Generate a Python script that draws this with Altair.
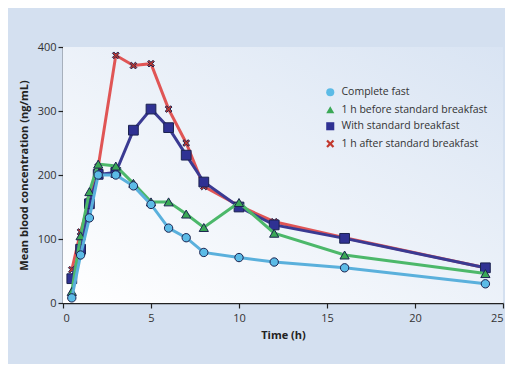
import altair as alt
import pandas as pd

times = [0.5, 1, 1.5, 2, 3, 4, 5, 6, 7, 8, 10, 12, 16, 24]
fast = [8, 75, 133, 200, 200, 183, 154, 117, 102, 79, 71, 64, 55, 30]
before = [18, 105, 174, 217, 214, 187, 158, 158, 139, 118, 157, 109, 75, 46]
with_bf = [38, 84, 155, 201, 204, 270, 303, 274, 231, 189, 150, 122, 101, 55]
after = [52, 111, 160, 213, 387, 371, 374, 303, 250, 182, 152, 127, 102, 55]

series = ["Complete fast", "1 h before standard breakfast",
          "With standard breakfast", "1 h after standard breakfast"]
values = [fast, before, with_bf, after]

line_colors = ["#5ab0dc", "#4cb86a", "#3a3a92", "#e05555"]
fill_colors = ["#5cbbe6", "#3aa856", "#2f3193", "#c2392e"]
x_path = "M-1,-0.6L-0.6,-1L0,-0.4L0.6,-1L1,-0.6L0.4,0L1,0.6L0.6,1L0,0.4L-0.6,1L-1,0.6L-0.4,0Z"
shapes = ["circle", "triangle-up", "square", x_path]

rows = []
for s, vals in zip(series, values):
    for t, v in zip(times, vals):
        rows.append({"time": t, "conc": v, "series": s})
df = pd.DataFrame(rows)

W, H = 440, 256

x_enc = alt.X("time:Q", scale=alt.Scale(domain=[0, 25], nice=False),
              axis=alt.Axis(values=[0, 5, 10, 15, 20, 25], title="Time (h)"))
y_enc = alt.Y("conc:Q", scale=alt.Scale(domain=[0, 400], nice=False),
              axis=alt.Axis(values=[0, 100, 200, 300, 400],
                            title="Mean blood concentration (ng/mL)"))

bg = alt.Chart(alt.Data(values=[{}])).mark_rect(
    color=alt.LinearGradient(
        gradient="linear",
        stops=[alt.GradientStop(color="#ffffff", offset=0),
               alt.GradientStop(color="#d9e4f3", offset=1)],
        x1=0, y1=1, x2=1, y2=0)
).encode(x=alt.value(0), x2=alt.value(W), y=alt.value(0), y2=alt.value(H))

fill_scale = alt.Scale(domain=series, range=fill_colors)
shape_scale = alt.Scale(domain=series, range=shapes)
sizes = {"Complete fast": 70, "1 h before standard breakfast": 85,
         "With standard breakfast": 95, "1 h after standard breakfast": 45}

legend = alt.Legend(title=None, orient="none", legendX=262, legendY=40,
                    symbolStrokeColor="#1c2350", symbolStrokeWidth=1,
                    symbolSize=65, rowPadding=4.5, labelOffset=6)

layers = [bg]
draw_order = [3, 2, 1, 0]
for i in draw_order:
    s = series[i]
    base = alt.Chart(df).transform_filter(alt.datum.series == s)
    line = base.mark_line(strokeWidth=3, color=line_colors[i]).encode(
        x=x_enc, y=y_enc)
    pts = base.mark_point(filled=True, opacity=1, size=sizes[s],
                          strokeWidth=1).encode(
        x=x_enc, y=y_enc,
        stroke=alt.value("#1c2350"),
        fill=alt.Fill("series:N", scale=fill_scale, legend=legend),
        shape=alt.Shape("series:N", scale=shape_scale, legend=legend))
    layers += [line, pts]

chart = alt.layer(*layers).properties(
    width=W, height=H, background="#d4e0f0",
    padding={"left": 55, "top": 39, "right": 2, "bottom": 61},
    autosize=alt.AutoSizeParams(type="none")
).configure_view(stroke=None).configure_axis(
    grid=False, domainColor="#222", domainWidth=1.5, tickColor="#222",
    tickSize=5, tickWidth=1.2, labelColor="#333", labelFontSize=11,
    labelFont="Open Sans", titleFont="Open Sans", titleFontSize=11,
    titleFontWeight="bold", titleColor="#222"
).configure_axisY(titlePadding=8, labelPadding=2).configure_axisX(
    titlePadding=6, labelPadding=4
).configure_legend(
    labelFont="Open Sans", labelFontSize=10.5, labelColor="#333"
)

chart.save("out.html", embed_options={"renderer": "svg", "actions": False})
